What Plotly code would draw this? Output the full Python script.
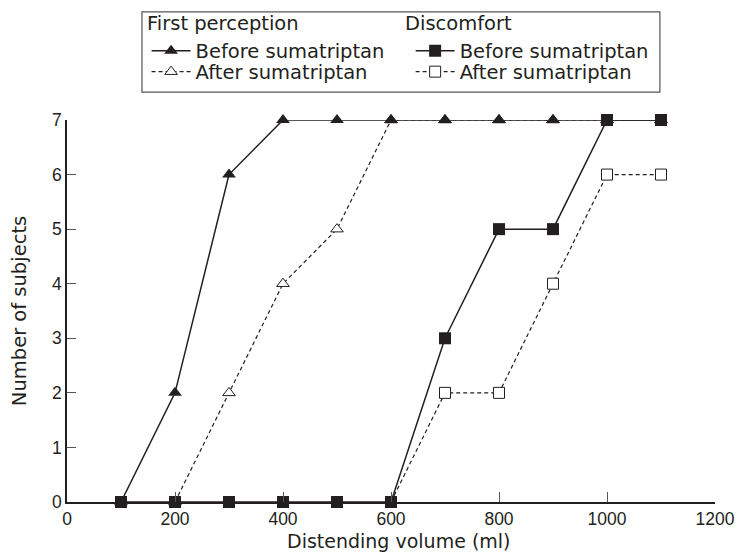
import plotly.graph_objects as go

volumes = [100, 200, 300, 400, 500, 600, 700, 800, 900, 1000, 1100]
fp_before = [0, 2, 6, 7, 7, 7, 7, 7, 7, 7, 7]
fp_after_x = [200, 300, 400, 500, 600, 700, 800, 900, 1000, 1100]
fp_after = [0, 2, 4, 5, 7, 7, 7, 7, 7, 7]
dc_before = [0, 0, 0, 0, 0, 0, 3, 5, 5, 7, 7]
dc_after_x = [600, 700, 800, 900, 1000, 1100]
dc_after = [0, 2, 2, 4, 6, 6]

x_ticks = [0, 200, 400, 600, 800, 1000, 1200]
y_ticks = [0, 1, 2, 3, 4, 5, 6, 7]
group_titles = ["First perception", "Discomfort"]
x_title = "Distending volume (ml)"
y_title = "Number of subjects"

INK = "#231f20"
TXT = "DejaVu Sans"
NUM = "Liberation Sans"
FS = 19.5

fig = go.Figure()
fig.add_trace(go.Scatter(
    x=fp_after_x, y=fp_after, name="After sumatriptan", legend="legend3",
    mode="lines+markers", cliponaxis=False,
    line=dict(color=INK, width=1.2, dash="4px,3px"),
    marker=dict(symbol="triangle-up", size=11, color="white", line=dict(color=INK, width=1))))
fig.add_trace(go.Scatter(
    x=volumes, y=fp_before, name="Before sumatriptan", legend="legend",
    mode="lines+markers", cliponaxis=False,
    line=dict(color=INK, width=1.5),
    marker=dict(symbol="triangle-up", size=12, color=INK)))
fig.add_trace(go.Scatter(
    x=dc_after_x, y=dc_after, name="After sumatriptan", legend="legend4",
    mode="lines+markers", cliponaxis=False,
    line=dict(color=INK, width=1.2, dash="4px,3px"),
    marker=dict(symbol="square", size=11, color="white", line=dict(color=INK, width=1))))
fig.add_trace(go.Scatter(
    x=volumes, y=dc_before, name="Before sumatriptan", legend="legend2",
    mode="lines+markers", cliponaxis=False,
    line=dict(color=INK, width=1.5),
    marker=dict(symbol="square", size=12, color=INK)))


def leg(x, y):
    return dict(x=x, y=y, xanchor="left", yanchor="middle",
                bgcolor="rgba(0,0,0,0)", borderwidth=0, itemwidth=39,
                font=dict(family=TXT, size=FS, color=INK))


fig.update_layout(
    width=741, height=552,
    margin=dict(l=67, r=26, t=120, b=50),
    paper_bgcolor="white", plot_bgcolor="white",
    showlegend=True,
    legend=leg(0.1228, 1.1806),
    legend3=leg(0.1228, 1.1257),
    legend2=leg(0.5303, 1.1806),
    legend4=leg(0.5303, 1.1257),
    xaxis=dict(range=[0, 1200], tickvals=x_ticks, ticktext=[str(v) for v in x_ticks],
               showgrid=False, zeroline=False, showline=True, linecolor=INK, linewidth=1.5,
               ticks="inside", ticklen=10, tickcolor="#555", tickwidth=1, automargin=False,
               tickfont=dict(family=NUM, size=17.5, color=INK)),
    yaxis=dict(range=[0, 7], tickvals=y_ticks, ticktext=[str(v) for v in y_ticks],
               showgrid=False, zeroline=False, showline=True, linecolor=INK, linewidth=1.5,
               ticks="inside", ticklen=9, tickcolor="#555", tickwidth=1, automargin=False,
               tickfont=dict(family=NUM, size=17.5, color=INK),
               title=dict(text=y_title, font=dict(family=TXT, size=FS, color=INK), standoff=20)),
    annotations=[
        dict(text=group_titles[0], xref="paper", yref="paper", x=0.1208, y=1.2539,
             xanchor="left", yanchor="middle", showarrow=False, font=dict(family=TXT, size=FS, color=INK)),
        dict(text=group_titles[1], xref="paper", yref="paper", x=0.5185, y=1.2539,
             xanchor="left", yanchor="middle", showarrow=False, font=dict(family=TXT, size=FS, color=INK)),
        dict(text=x_title, xref="paper", yref="paper", x=0.5116, y=-0.1008,
             xanchor="center", yanchor="middle", showarrow=False, font=dict(family=TXT, size=19, color=INK)),
    ],
    shapes=[dict(type="rect", xref="paper", yref="paper", x0=0.1157, x1=0.915, y0=1.073, y1=1.283,
                 line=dict(color="#555", width=1.2), fillcolor="rgba(0,0,0,0)")],
)

fig.write_html("out.html")
